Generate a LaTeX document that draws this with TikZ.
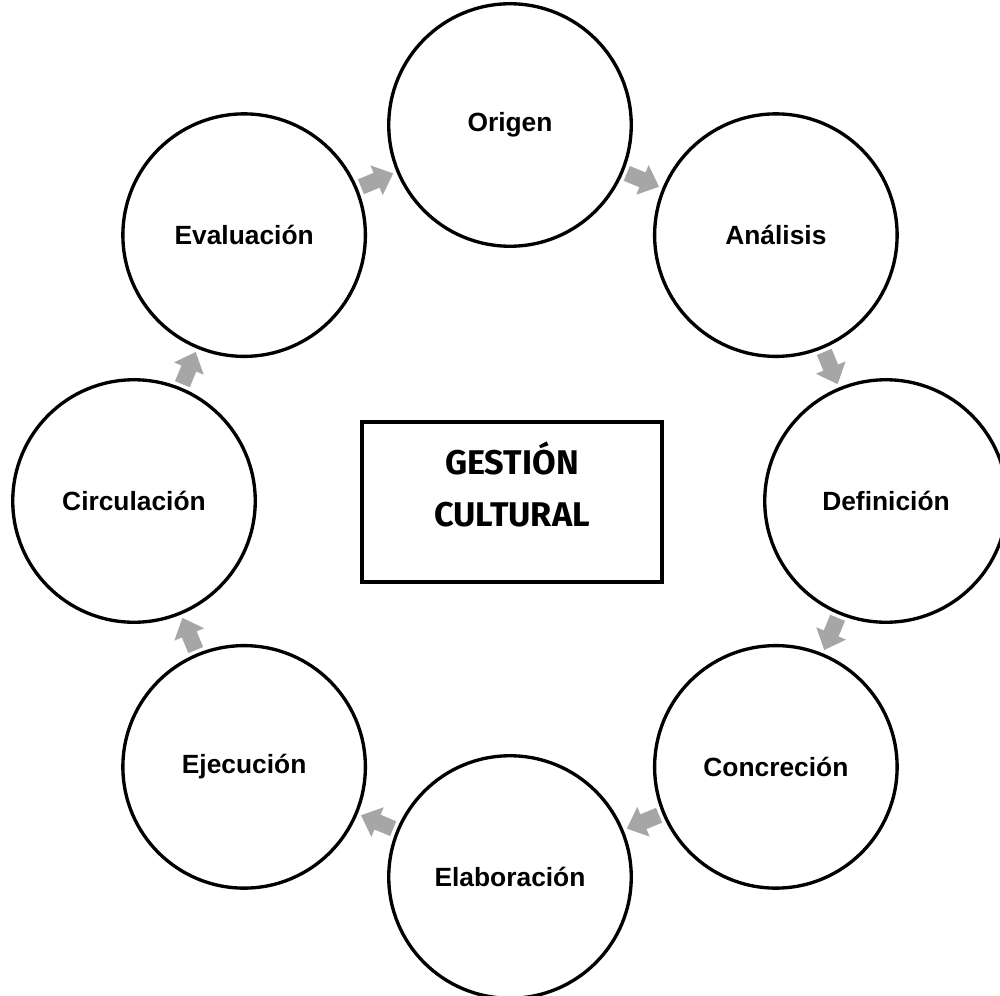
\documentclass[tikz,border=0pt]{standalone}
\usepackage{fontspec}
\setmainfont{Liberation Sans}
\newfontfamily\titlefont{Fira Sans}
\usetikzlibrary{arrows.meta,calc}

\begin{document}
\begin{tikzpicture}[
		stage/.style={circle,draw,line width=1.9pt,minimum size=4.85cm,inner sep=0pt,
			font=\fontsize{15}{17}\selectfont\bfseries},
		flow/.style={line width=0.32cm,black!35,-{Triangle[width=0.62cm,length=0.36cm]},
			shorten <=0.07cm,shorten >=0.07cm},
		title/.style={draw,line width=1.9pt,minimum width=6cm,minimum height=3.2cm},
		titletext/.style={align=center,font=\titlefont\bfseries\fontsize{19.5}{30}\selectfont}
	]
	\useasboundingbox (0,0) rectangle (20,-19.92);
	\coordinate (ctr) at (10.2,-10.02);
	%% stages of the cycle
	\foreach \name/\ang/\txt in {orig/90/Origen, anal/45/Análisis, defi/0/Definición,
		conc/-45/Concreción, elab/-90/Elaboración, ejec/-135/Ejecución,
		circ/180/Circulación, eval/135/Evaluación}
		\node[stage] (\name) at ($(ctr)+(\ang:7.52)$) {\txt};
	%%
	\foreach \a/\b in {eval/orig, orig/anal, anal/defi, defi/conc,
		conc/elab, elab/ejec, ejec/circ, circ/eval}
		\draw[flow] (\a) -- (\b);
	%% centre
	\node[title] (gc) at ($(ctr)+(0.04,-0.02)$) {};
	\node[titletext] (gctext) at ($(gc.center)+(0,0.35)$) {GESTIÓN\\CULTURAL};
\end{tikzpicture}
\end{document}
